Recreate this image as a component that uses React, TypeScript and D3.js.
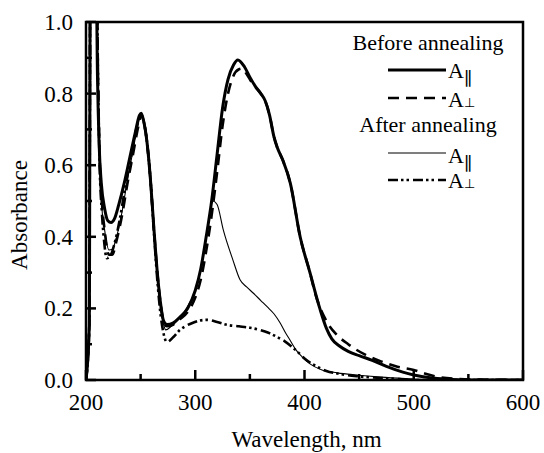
import React from "react";
import * as d3 from "d3";

const xTicks = [200, 300, 400, 500, 600];
const xMinor = [250, 350, 450, 550];
const yTicks = [0, 0.2, 0.4, 0.6, 0.8, 1.0];
const yMinor = [0.1, 0.3, 0.5, 0.7, 0.9];

const beforeParX = [200, 203, 204, 209, 210.5, 212, 214, 217, 220, 223, 226, 230, 235, 240, 245, 249, 250.5, 253, 256, 259, 262, 265, 268, 271, 274, 280, 286, 293, 300, 305, 310, 315, 320, 325, 330, 335, 339, 345, 350, 355, 360, 364, 368, 372, 375, 380, 387, 396, 405, 414, 420, 425, 432, 440, 450, 462, 475, 490, 500, 515, 530, 550, 600];
const beforeParY = [0, 0.15, 1.2, 1.2, 0.85, 0.66, 0.55, 0.48, 0.445, 0.44, 0.45, 0.49, 0.55, 0.62, 0.69, 0.74, 0.745, 0.72, 0.66, 0.56, 0.43, 0.31, 0.22, 0.165, 0.155, 0.16, 0.176, 0.2, 0.25, 0.31, 0.4, 0.5, 0.63, 0.76, 0.84, 0.88, 0.894, 0.875, 0.846, 0.82, 0.8, 0.78, 0.74, 0.68, 0.65, 0.615, 0.55, 0.4, 0.3, 0.2, 0.145, 0.115, 0.095, 0.08, 0.068, 0.055, 0.038, 0.022, 0.014, 0.006, 0.002, 0, 0];

const beforePerpX = [200, 203, 204, 209.5, 211, 212.5, 214.5, 217, 221, 224, 228, 233, 238, 243, 248, 250.5, 253, 256, 259, 262, 265, 268, 271, 274, 280, 286, 293, 300, 305, 310, 315, 320, 325, 330, 335, 340, 343, 347, 352, 356, 360, 364, 368, 372, 375, 380, 387, 396, 405, 410, 420, 430, 440, 456, 470, 485, 500, 510, 520, 540, 560, 600];
const beforePerpY = [0, 0.15, 1.2, 1.2, 0.85, 0.62, 0.5, 0.42, 0.35, 0.35, 0.39, 0.46, 0.55, 0.63, 0.71, 0.74, 0.72, 0.66, 0.56, 0.43, 0.31, 0.22, 0.165, 0.15, 0.155, 0.17, 0.19, 0.23, 0.28, 0.36, 0.46, 0.58, 0.71, 0.8, 0.85, 0.868, 0.87, 0.855, 0.83, 0.815, 0.8, 0.78, 0.74, 0.68, 0.65, 0.615, 0.55, 0.4, 0.3, 0.24, 0.165, 0.125, 0.1, 0.07, 0.052, 0.037, 0.028, 0.018, 0.01, 0.003, 0.001, 0];

const afterParX = [200, 203, 204, 209, 210.5, 212, 214, 217, 221, 224, 228, 233, 238, 243, 248, 250.5, 253, 256, 259, 262, 265, 268, 271, 273, 278, 285, 292, 300, 305, 310, 313, 316, 320, 325.6, 334.5, 341, 347, 353, 360, 366, 372, 377.6, 383, 386, 392, 398, 405, 416, 430, 447, 470, 500, 520, 600];
const afterParY = [0, 0.15, 1.2, 1.2, 0.85, 0.62, 0.5, 0.42, 0.363, 0.365, 0.4, 0.47, 0.56, 0.64, 0.72, 0.74, 0.72, 0.66, 0.56, 0.43, 0.31, 0.21, 0.155, 0.14, 0.15, 0.17, 0.2, 0.25, 0.31, 0.4, 0.46, 0.5, 0.49, 0.42, 0.335, 0.28, 0.26, 0.243, 0.222, 0.204, 0.185, 0.16, 0.13, 0.115, 0.085, 0.064, 0.045, 0.028, 0.02, 0.014, 0.008, 0.003, 0, 0];

const afterPerpX = [200, 203, 204, 209.5, 211, 212.5, 214.5, 216.5, 219, 222, 226, 231, 236, 241, 246, 250.5, 253, 256, 259, 262, 265, 268, 271, 274, 280, 286, 292, 298, 304, 310.5, 320, 329, 340, 350, 359, 367, 375, 382, 389.5, 395, 400, 410, 420, 430, 450, 480, 500, 600];
const afterPerpY = [0, 0.15, 1.2, 1.2, 0.85, 0.6, 0.47, 0.39, 0.34, 0.345, 0.38, 0.45, 0.54, 0.62, 0.7, 0.74, 0.72, 0.66, 0.56, 0.42, 0.29, 0.19, 0.13, 0.106, 0.12, 0.14, 0.152, 0.16, 0.166, 0.168, 0.162, 0.154, 0.15, 0.146, 0.14, 0.132, 0.12, 0.108, 0.09, 0.075, 0.06, 0.04, 0.025, 0.018, 0.01, 0.004, 0, 0];

const legendGroups = ["Before annealing", "After annealing"];
const seriesNames = ["A\u2225", "A\u22A5", "A\u2225", "A\u22A5"];

const W = 544;
const H = 453;
const left = 86, right = 523, top = 22, bottom = 380;
const css = `
  svg text.s { font-family: "Times New Roman", "Liberation Serif", Tinos, serif !important; }
  svg text.sym1 { font-family: "DejaVu Serif", serif !important; }
  svg text.sym2 { font-family: "DejaVu Sans", sans-serif !important; }
`;

export default function App() {
  const x = d3.scaleLinear().domain([200, 600]).range([left, right]);
  const y = d3.scaleLinear().domain([0, 1]).range([bottom, top]);
  const line = d3
    .line<[number, number]>()
    .x((d) => x(d[0]))
    .y((d) => y(d[1]))
    .curve(d3.curveMonotoneX);
  const zip = (a: number[], b: number[]) => a.map((v, i) => [v, b[i]] as [number, number]);

  const series = [
    { d: zip(beforeParX, beforeParY), w: 3, dash: "none" },
    { d: zip(beforePerpX, beforePerpY), w: 2.6, dash: "11,7" },
    { d: zip(afterParX, afterParY), w: 1.1, dash: "none" },
    { d: zip(afterPerpX, afterPerpY), w: 2.6, dash: "10,3,2.5,3,2.5,4" },
  ];

  const legendLineY = [70, 98, 153, 180];
  const legendTextY = [78, 107, 163, 188];
  const groupY = [50, 132];

  return (
    <svg width={W} height={H} style={{ position: "absolute", left: 0, top: 0, background: "#fff" }}>
      <style>{css}</style>
      <defs>
        <clipPath id="plot">
          <rect x={left} y={top} width={right - left} height={bottom - top} />
        </clipPath>
      </defs>
      <g clipPath="url(#plot)">
        {series.map((s, i) => (
          <path
            key={i}
            d={line(s.d) || ""}
            fill="none"
            stroke="#000"
            strokeWidth={s.w}
            strokeDasharray={s.dash}
            strokeLinejoin="round"
          />
        ))}
      </g>
      <rect x={left} y={top} width={right - left} height={bottom - top} fill="none" stroke="#000" strokeWidth={2.5} />
      {yTicks.map((t) => (
        <line key={"yt" + t} x1={left} x2={left + 10} y1={y(t)} y2={y(t)} stroke="#000" strokeWidth={2.5} />
      ))}
      {yMinor.map((t) => (
        <line key={"ym" + t} x1={left} x2={left + 6} y1={y(t)} y2={y(t)} stroke="#000" strokeWidth={2.5} />
      ))}
      {xTicks.map((t) => (
        <line key={"xt" + t} x1={x(t)} x2={x(t)} y1={bottom} y2={bottom - 10} stroke="#000" strokeWidth={2.5} />
      ))}
      {xMinor.map((t) => (
        <line key={"xm" + t} x1={x(t)} x2={x(t)} y1={bottom} y2={bottom - 6} stroke="#000" strokeWidth={2.5} />
      ))}
      {legendLineY.map((ly, i) => (
        <line
          key={"ll" + i}
          x1={388}
          x2={446}
          y1={ly}
          y2={ly}
          stroke="#000"
          strokeWidth={series[i].w}
          strokeDasharray={series[i].dash}
        />
      ))}
      {yTicks.map((t) => (
        <text key={"yl" + t} className="s" x={73} y={y(t) + 8} textAnchor="end" fontSize={23}>
          {d3.format(".1f")(t)}
        </text>
      ))}
      {xTicks.map((t) => (
        <text key={"xl" + t} className="s" x={x(t)} y={410} textAnchor="middle" fontSize={23}>
          {t}
        </text>
      ))}
      <text className="s" x={(left + right) / 2 + 2} y={447} textAnchor="middle" fontSize={23}>
        Wavelength, nm
      </text>
      <text className="s" transform="translate(27, 215) rotate(-90)" textAnchor="middle" fontSize={23}>
        Absorbance
      </text>
      {legendGroups.map((g, i) => (
        <text key={g} className="s" x={428} y={groupY[i]} textAnchor="middle" fontSize={22}>
          {g}
        </text>
      ))}
      {seriesNames.map((n, i) => (
        <g key={"ln" + i}>
          <text className="s" x={448} y={legendTextY[i]} fontSize={22}>
            {n.charAt(0)}
          </text>
          {i % 2 === 0 ? (
            <text className="sym1" x={464} y={legendTextY[i] + 7} fontSize={18}>
              {n.charAt(1)}
            </text>
          ) : (
            <text className="sym2" x={464} y={legendTextY[i]} fontSize={13}>
              {n.charAt(1)}
            </text>
          )}
        </g>
      ))}
    </svg>
  );
}
